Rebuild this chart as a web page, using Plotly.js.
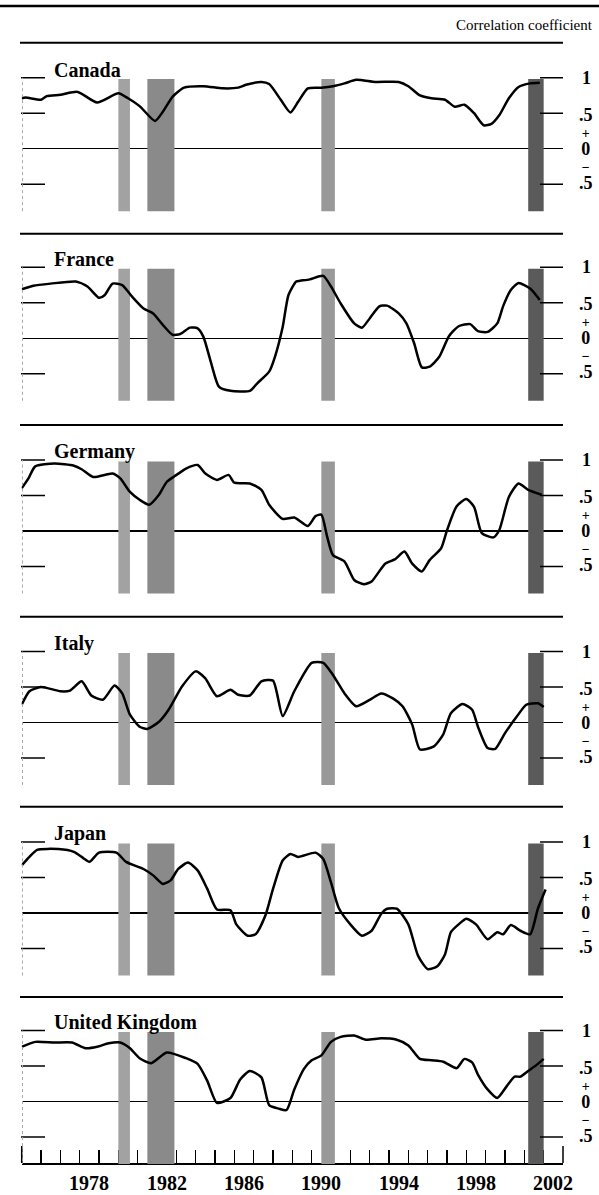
<!DOCTYPE html>
<html>
<head>
<meta charset="utf-8">
<script src="https://cdn.plot.ly/plotly-3.0.1.min.js"></script>
<style>
html,body{margin:0;padding:0;background:#fff;}
#chart{width:599px;height:1195px;}
</style>
</head>
<body>
<div id="chart"></div>
<script>
// ---------- DATA ----------
const countries = ["Canada", "France", "Germany", "Italy", "Japan", "United Kingdom"];

const canadaYears = [1975.0,1975.2,1976.0,1976.3,1977.0,1977.9,1978.9,1980.0,1980.5,1981.1,1981.9,1982.3,1982.8,1983.4,1984.4,1985.4,1986.2,1986.6,1987.4,1987.8,1988.4,1988.9,1989.3,1989.8,1990.5,1991.1,1991.7,1992.3,1993.3,1994.5,1995.0,1995.6,1996.2,1996.9,1997.4,1997.9,1998.4,1998.9,1999.3,1999.7,2000.2,2000.7,2001.3,2001.8];
const canadaCorr  = [0.71,0.72,0.69,0.74,0.76,0.80,0.65,0.78,0.71,0.60,0.39,0.52,0.73,0.86,0.88,0.85,0.86,0.90,0.94,0.91,0.69,0.51,0.66,0.85,0.86,0.88,0.92,0.97,0.94,0.94,0.88,0.75,0.71,0.69,0.59,0.62,0.50,0.33,0.35,0.47,0.71,0.87,0.92,0.93];

const franceYears = [1975.0,1975.6,1976.5,1977.8,1978.4,1979.0,1979.3,1979.7,1980.2,1980.7,1981.3,1981.8,1982.3,1982.8,1983.2,1983.7,1984.1,1984.4,1984.8,1985.2,1985.8,1986.8,1987.2,1987.8,1988.1,1988.5,1988.8,1989.2,1989.4,1989.9,1990.6,1991.0,1991.5,1992.2,1992.6,1993.0,1993.5,1993.9,1994.5,1994.9,1995.3,1995.7,1996.1,1996.6,1997.1,1997.6,1998.2,1998.6,1999.1,1999.6,1999.9,2000.3,2000.7,2001.3,2001.8];
const franceCorr  = [0.69,0.74,0.77,0.80,0.73,0.57,0.61,0.77,0.75,0.59,0.42,0.35,0.19,0.05,0.06,0.15,0.14,0.02,-0.35,-0.68,-0.74,-0.74,-0.63,-0.47,-0.26,0.16,0.61,0.80,0.81,0.83,0.88,0.73,0.49,0.21,0.15,0.28,0.45,0.46,0.35,0.21,-0.07,-0.41,-0.40,-0.26,0.03,0.17,0.20,0.10,0.09,0.21,0.45,0.68,0.78,0.70,0.54];

const germanyYears = [1975.0,1975.35,1975.7,1976.7,1977.7,1978.1,1978.7,1979.7,1980.1,1980.6,1981.1,1981.6,1982.1,1982.5,1982.9,1983.5,1984.1,1984.5,1985.1,1985.7,1986.0,1986.8,1987.4,1987.8,1988.5,1989.1,1989.8,1990.2,1990.5,1990.8,1991.1,1991.7,1992.2,1992.7,1993.1,1993.8,1994.3,1994.8,1995.2,1995.7,1996.1,1996.7,1997.0,1997.5,1998.0,1998.4,1998.8,1999.4,1999.7,2000.2,2000.7,2001.2,2001.9];
const germanyCorr  = [0.60,0.74,0.91,0.95,0.92,0.87,0.76,0.81,0.74,0.55,0.44,0.37,0.51,0.69,0.77,0.88,0.93,0.81,0.72,0.79,0.68,0.67,0.58,0.37,0.17,0.19,0.07,0.21,0.23,-0.08,-0.34,-0.43,-0.69,-0.75,-0.71,-0.46,-0.40,-0.29,-0.46,-0.57,-0.41,-0.24,0.01,0.35,0.45,0.34,-0.03,-0.09,0.01,0.48,0.67,0.58,0.51];

const italyYears = [1975.0,1975.4,1976.0,1977.0,1977.5,1978.1,1978.6,1979.2,1979.8,1980.2,1980.6,1981.1,1981.5,1982.1,1982.6,1983.3,1984.0,1984.5,1985.1,1985.8,1986.2,1986.8,1987.4,1988.0,1988.5,1989.1,1990.0,1990.6,1991.1,1991.7,1992.3,1993.0,1993.6,1994.2,1994.7,1995.2,1995.6,1996.3,1996.8,1997.2,1997.8,1998.3,1998.6,1999.1,1999.5,2000.0,2000.6,2001.1,2001.7,2002.0];
const italyCorr  = [0.25,0.44,0.50,0.44,0.45,0.58,0.38,0.32,0.52,0.41,0.11,-0.06,-0.09,0.01,0.18,0.51,0.72,0.62,0.37,0.46,0.39,0.38,0.58,0.59,0.09,0.44,0.84,0.84,0.67,0.41,0.23,0.32,0.41,0.34,0.23,-0.03,-0.38,-0.34,-0.17,0.13,0.26,0.18,-0.06,-0.36,-0.37,-0.15,0.08,0.25,0.27,0.22];

const japanYears = [1975.0,1975.4,1975.8,1976.9,1977.7,1978.2,1978.5,1979.0,1979.9,1980.4,1981.3,1981.8,1982.3,1982.7,1983.1,1983.6,1984.1,1984.6,1985.1,1985.8,1986.1,1986.7,1987.1,1987.6,1988.0,1988.5,1988.9,1989.3,1990.2,1990.6,1991.0,1991.4,1992.0,1992.6,1993.1,1993.6,1993.9,1994.4,1995.0,1995.5,1996.0,1996.5,1996.9,1997.2,1997.6,1998.0,1998.5,1999.1,1999.6,1999.9,2000.3,2000.8,2001.3,2001.7,2002.1];
const japanCorr  = [0.67,0.79,0.89,0.90,0.86,0.77,0.72,0.85,0.85,0.72,0.62,0.53,0.41,0.46,0.62,0.71,0.60,0.34,0.05,0.04,-0.16,-0.32,-0.30,-0.04,0.34,0.74,0.83,0.79,0.85,0.76,0.43,0.07,-0.16,-0.32,-0.25,-0.01,0.06,0.06,-0.16,-0.60,-0.79,-0.75,-0.58,-0.27,-0.16,-0.08,-0.16,-0.37,-0.27,-0.30,-0.17,-0.25,-0.30,0.06,0.33];

const ukYears = [1975.0,1975.7,1976.7,1977.6,1978.3,1978.9,1979.5,1980.1,1980.6,1981.1,1981.7,1982.5,1983.5,1984.1,1984.6,1985.1,1985.8,1986.3,1986.8,1987.4,1987.8,1988.3,1988.7,1989.1,1989.6,1990.0,1990.5,1991.0,1991.5,1992.2,1992.8,1993.6,1994.4,1995.0,1995.6,1996.2,1996.8,1997.5,1997.9,1998.3,1998.6,1999.1,1999.6,2000.1,2000.5,2000.8,2001.2,2001.7,2002.0];
const ukCorr  = [0.77,0.84,0.83,0.83,0.75,0.77,0.82,0.83,0.75,0.61,0.54,0.69,0.61,0.53,0.29,-0.02,0.05,0.31,0.43,0.34,-0.05,-0.10,-0.12,0.17,0.46,0.58,0.65,0.84,0.91,0.93,0.87,0.89,0.87,0.79,0.60,0.58,0.56,0.47,0.60,0.55,0.38,0.17,0.05,0.22,0.35,0.35,0.43,0.53,0.60];

const recessionStart = [1980.0, 1981.5, 1990.5, 2001.2];
const recessionEnd   = [1980.6, 1982.9, 1991.2, 2002.0];

const xTickYears  = [1975,1976,1977,1978,1979,1980,1981,1982,1983,1984,1985,1986,1987,1988,1989,1990,1991,1992,1993,1994,1995,1996,1997,1998,1999,2000,2001,2002,2003];
const xLabelYears = [1978, 1982, 1986, 1990, 1994, 1998, 2002];

const yTickValues = [1, 0.5, -0.5];
const yTopLabel   = "1";
const yStackLabels = [".5", "+", "0", "\u2212", ".5"];   // stacked right-hand labels from +.5 down to -.5
const axisTitle = "Correlation coefficient";

// ---------- LAYOUT HELPERS ----------
const W = 599, H = 1195;
const px = v => v / W;
const py = v => 1 - v / H;
const zeros = [148.7, 338.3, 531, 722.5, 913, 1101.5];   // pixel y of zero line per panel
const seps = [42.7, 233.7, 425, 616.7, 806.7, 997];        // separator lines
const U = 71;                                               // px per unit
const yMin = -1.2, yMax = 1.45;
const xLeft = 21.7, xRight = 563;
const barTop = 0.98, barBottom = -0.88;

const series = [
  [canadaYears, canadaCorr], [franceYears, franceCorr], [germanyYears, germanyCorr],
  [italyYears, italyCorr], [japanYears, japanCorr], [ukYears, ukCorr]
];

const serif = "Liberation Serif, Times New Roman, serif";
const traces = [];
const shapes = [];
const annotations = [];
const layout = {
  width: W, height: H,
  margin: {l: 0, r: 0, t: 0, b: 0},
  paper_bgcolor: "#fff", plot_bgcolor: "rgba(0,0,0,0)",
  showlegend: false,
  barmode: "overlay",
  xaxis: {
    domain: [px(xLeft), px(xRight)],
    range: [1975, 2003],
    anchor: "free",
    position: py(1163),
    showgrid: false, zeroline: false,
    showline: true, linecolor: "#000", linewidth: 1.5,
    ticks: "inside", ticklen: 13, tickwidth: 1.5, tickcolor: "#000",
    tickvals: xTickYears, showticklabels: false,
    fixedrange: true
  }
};

const barColors = ["#a2a2a2", "#8a8a8a", "#999999", "#5a5a5a"];

// stacked right-hand label block (one text, fixed line spacing)
const stackText = yStackLabels.map(t => {
  const small = (t === "+" || t === "\u2212");
  return '<span style="font-size:' + (small ? 14 : 18) + 'px"><b>' + t + '</b></span>';
}).join("<br>");

series.forEach((s, i) => {
  const n = i + 1;
  const yName = n === 1 ? "y" : "y" + n;
  const axKey = n === 1 ? "yaxis" : "yaxis" + n;
  const z = zeros[i];
  layout[axKey] = {
    domain: [py(z - yMin * U), py(z - yMax * U)],
    range: [yMin, yMax],
    anchor: "x",
    showgrid: false, showticklabels: false, ticks: "",
    showline: false,
    zeroline: true, zerolinecolor: "#000", zerolinewidth: 1.5,
    fixedrange: true
  };
  // recession bars
  traces.push({
    type: "bar",
    x: recessionStart.map((a, k) => (a + recessionEnd[k]) / 2),
    y: recessionStart.map(() => barTop - barBottom),
    base: barBottom,
    width: recessionStart.map((a, k) => recessionEnd[k] - a),
    xaxis: "x", yaxis: yName,
    marker: {color: barColors, line: {width: 0}},
    hoverinfo: "skip"
  });
  // correlation line
  traces.push({
    type: "scatter", mode: "lines",
    x: s[0], y: s[1],
    xaxis: "x", yaxis: yName,
    line: {color: "#000", width: 2.5, shape: "spline", smoothing: 0.6},
    hoverinfo: "skip"
  });
  // left and right ticks
  yTickValues.forEach(v => {
    shapes.push({type: "line", xref: "paper", yref: yName, x0: px(21), x1: px(45), y0: v, y1: v,
      line: {color: "#000", width: 1.5}});
    shapes.push({type: "line", xref: "paper", yref: yName, x0: px(540), x1: px(xRight), y0: v, y1: v,
      line: {color: "#000", width: 1.5}});
  });
  // faint left dotted axis
  shapes.push({type: "line", xref: "paper", yref: yName, x0: px(22.5), x1: px(22.5), y0: barBottom, y1: 1,
    line: {color: "#aaa", width: 1, dash: "dot"}});
  // right labels: "1" and the stacked block
  annotations.push({
    xref: "paper", yref: yName, x: px(586), y: 1.0, text: "<b>" + yTopLabel + "</b>",
    showarrow: false, xanchor: "center", yanchor: "middle",
    font: {family: serif, size: 18, color: "#000"}
  });
  annotations.push({
    xref: "paper", yref: yName, x: px(586), y: 0.0, text: stackText,
    showarrow: false, xanchor: "center", yanchor: "middle", align: "center",
    font: {family: serif, size: 13, color: "#000"}
  });
  // country label
  annotations.push({
    xref: "paper", yref: yName, x: px(52), y: 1, yshift: -5,
    text: "<b>" + countries[i] + "</b>", showarrow: false,
    xanchor: "left", yanchor: "bottom",
    font: {family: serif, size: 20, color: "#000"}
  });
});

// separator lines
seps.forEach(s => {
  shapes.push({type: "line", xref: "paper", yref: "paper", x0: px(20), x1: px(xRight), y0: py(s), y1: py(s),
    line: {color: "#000", width: 2}});
});
// header rule
shapes.push({type: "line", xref: "paper", yref: "paper", x0: 0, x1: 1, y0: py(6), y1: py(6),
  line: {color: "#000", width: 2.5}});
// taller end ticks of x axis
shapes.push({type: "line", xref: "paper", yref: "paper", x0: px(xLeft), x1: px(xLeft), y0: py(1163), y1: py(1146),
  line: {color: "#000", width: 1.5}});
shapes.push({type: "line", xref: "paper", yref: "paper", x0: px(xRight), x1: px(xRight), y0: py(1163), y1: py(1146),
  line: {color: "#000", width: 1.5}});

// year labels
xLabelYears.forEach(yr => {
  annotations.push({
    xref: "x", yref: "paper", x: yr + 0.5, y: py(1183), text: "<b>" + yr + "</b>",
    showarrow: false, xanchor: "center", yanchor: "middle",
    font: {family: serif, size: 20, color: "#000"}
  });
});
// axis title
annotations.push({
  xref: "paper", yref: "paper", x: px(595), y: py(25), text: axisTitle,
  showarrow: false, xanchor: "right", yanchor: "middle",
  font: {family: serif, size: 15, color: "#000"}
});

layout.shapes = shapes;
layout.annotations = annotations;

Plotly.newPlot("chart", traces, layout, {staticPlot: true, displayModeBar: false});
</script>
</body>
</html>
